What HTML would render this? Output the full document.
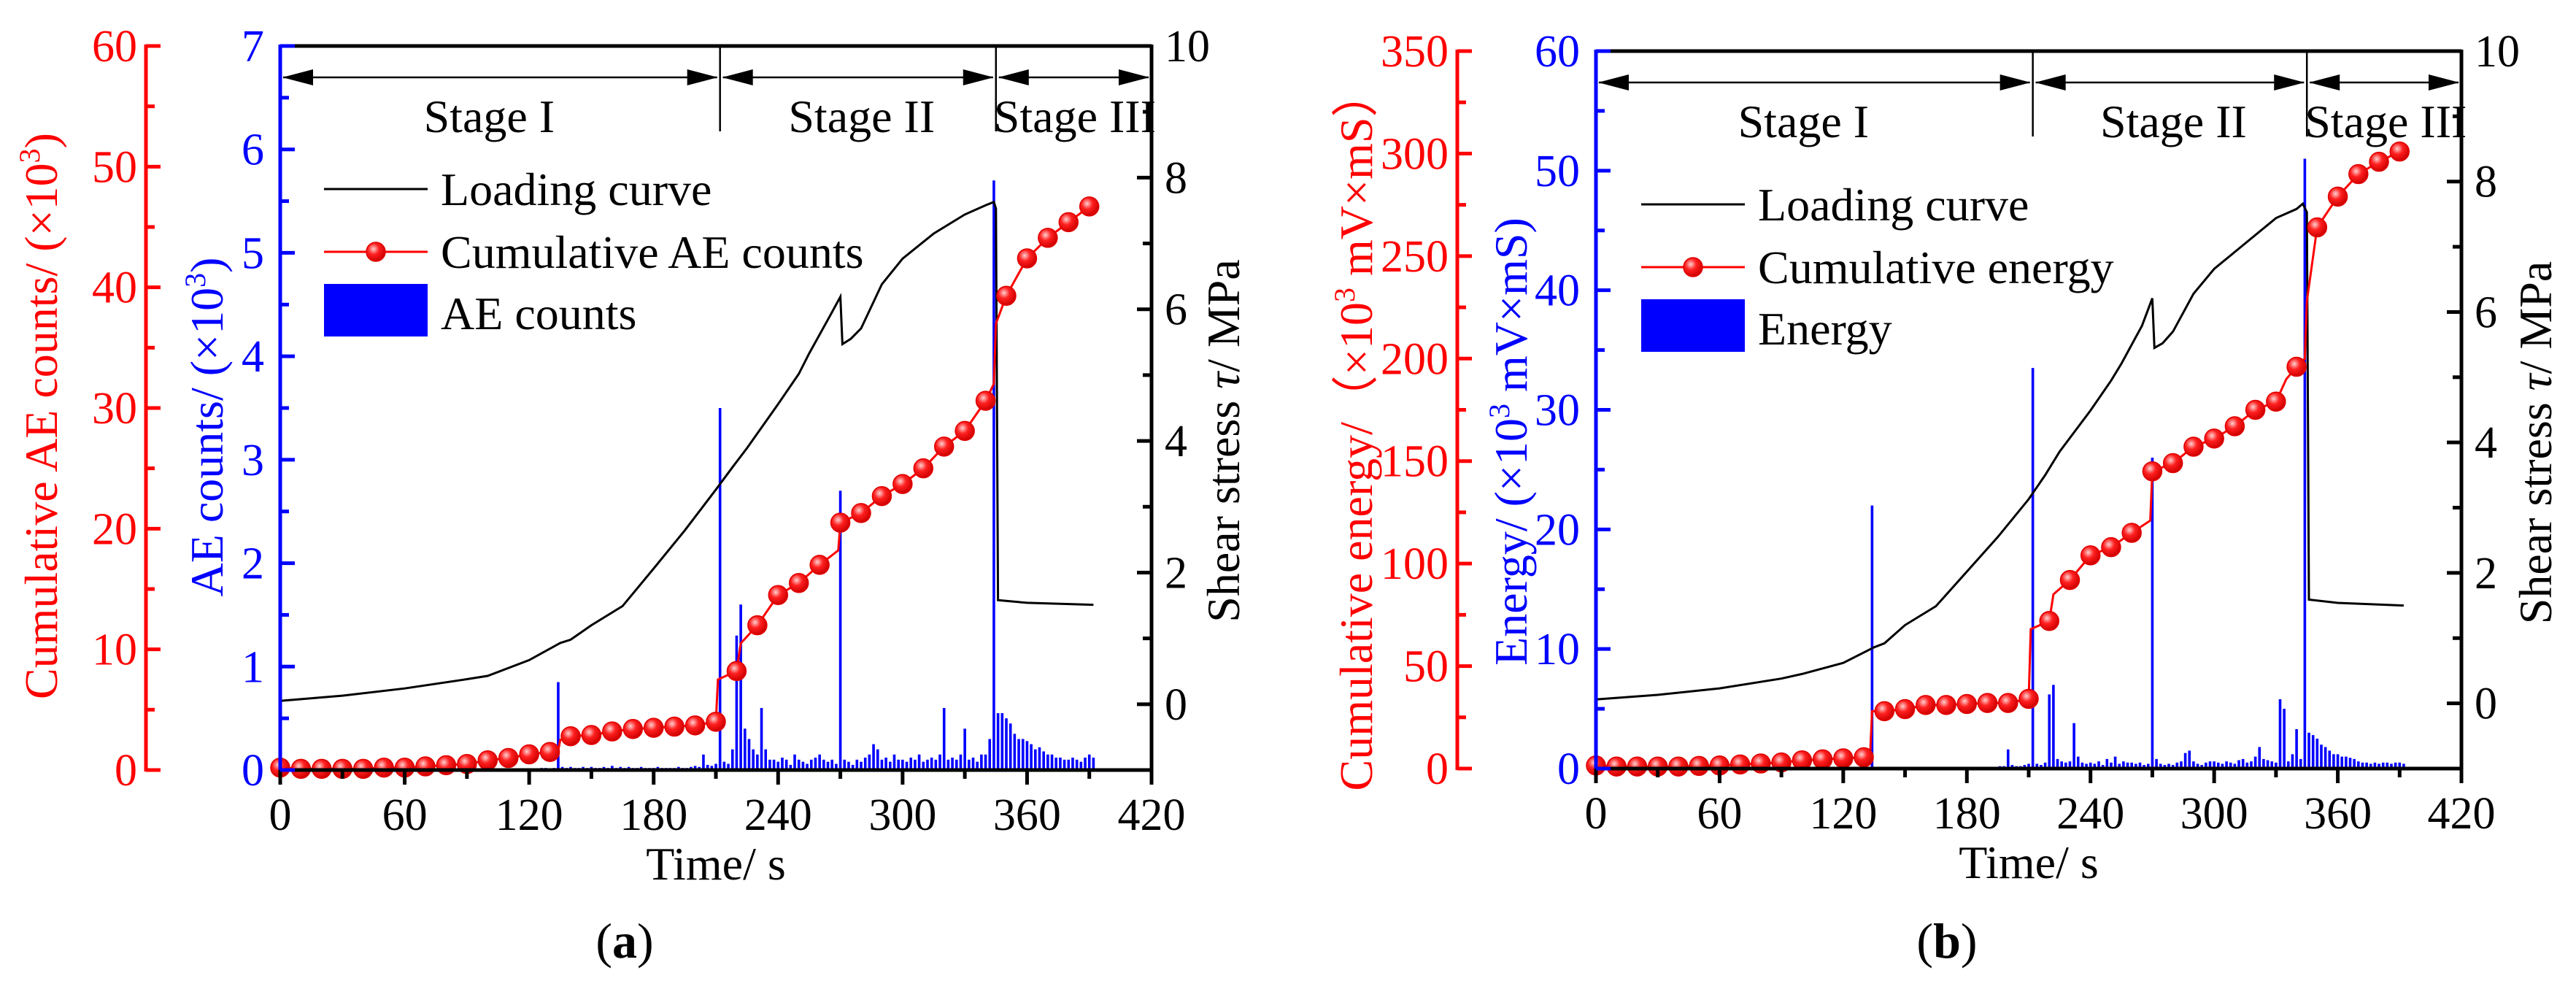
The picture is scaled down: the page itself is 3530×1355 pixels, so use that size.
<!DOCTYPE html>
<html><head><meta charset="utf-8">
<style>
html,body{margin:0;padding:0;background:#fff;}
svg{display:block;font-family:"Liberation Serif","DejaVu Serif",serif;}
</style></head>
<body>
<svg id="fig" width="3530" height="1355" viewBox="0 0 3530 1355" xmlns="http://www.w3.org/2000/svg"></svg>
<script>
// ---------- Panel (a) data ----------
const aLoadT = [0,30,60,90,100,120,135,140,150,165,180,195,210,218,225,240,250,255,265,270,271,275,280,290,300,315,330,340,344,345,346,360,392];
const aLoadV = [0.05,0.13,0.24,0.38,0.43,0.67,0.93,0.98,1.2,1.49,2.06,2.64,3.26,3.6,3.89,4.56,5.02,5.33,5.9,6.19,5.47,5.55,5.71,6.38,6.77,7.15,7.44,7.58,7.63,7.53,1.58,1.54,1.51];
const aCumLineT = [0,10,20,30,40,50,60,70,80,90,100,110,120,130,134,135,140,150,160,170,180,190,200,210,211,220,222,230,240,250,260,269,270,280,290,300,310,320,330,340,344,345,350,360,370,380,390];
const aCumLineV = [0.2,0.1,0.1,0.1,0.1,0.2,0.2,0.3,0.4,0.5,0.8,1.0,1.3,1.5,1.6,2.5,2.8,2.9,3.2,3.4,3.5,3.6,3.7,4.0,7.5,8.2,10.5,12.0,14.5,15.5,17.0,18.2,20.5,21.3,22.7,23.7,25.0,26.8,28.1,30.6,32,37,39.3,42.4,44.1,45.4,46.7];
const aCumMarkT = [0,10,20,30,40,50,60,70,80,90,100,110,120,130,140,150,160,170,180,190,200,210,220,230,240,250,260,270,280,290,300,310,320,330,340,350,360,370,380,390];
const aCumMarkV = [0.2,0.1,0.1,0.1,0.1,0.2,0.2,0.3,0.4,0.5,0.8,1.0,1.3,1.5,2.8,2.9,3.2,3.4,3.5,3.6,3.7,4.0,8.2,12.0,14.5,15.5,17.0,20.5,21.3,22.7,23.7,25.0,26.8,28.1,30.6,39.3,42.4,44.1,45.4,46.7];
const aBarStep = 2;
const aBarV = [
0,0,0,0,0,0,0,0,0,0, 0,0,0,0,0,0,0,0,0,0, 0,0,0,0,0,0,0,0,0,0, 0,0,0,0,0,0,0,0,0,0, 0,0,0,0,0,0,0,0,0,0,
0,0,0,0,0.01,0,0,0,0,0.01, 0,0,0.01,0.02,0.02,0.01,0.02,0.85,0.03,0.02,
0.03,0.02,0.02,0.03,0.02,0.03,0.02,0.02,0.03,0.02, 0.04,0.02,0.03,0.02,0.03,0.02,0.02,0.03,0.02,0.02,
0.02,0.03,0.02,0.02,0.02,0.02,0.03,0.02,0.02,0.03, 0.04,0.03,0.15,0.05,0.04,0.06,3.5,0.08,0.06,0.2,
1.3,1.6,0.4,0.3,0.2,0.15,0.6,0.2,0.1,0.1, 0.08,0.12,0.1,0.05,0.15,0.1,0.08,0.06,0.1,0.12,
0.15,0.1,0.08,0.1,0.06,2.7,0.1,0.08,0.05,0.1, 0.08,0.12,0.15,0.25,0.2,0.1,0.12,0.08,0.15,0.1,
0.1,0.08,0.12,0.1,0.15,0.08,0.1,0.12,0.1,0.15, 0.6,0.1,0.12,0.1,0.15,0.4,0.1,0.12,0.08,0.15,
0.15,0.3,5.7,0.55,0.55,0.5,0.45,0.35,0.3,0.3, 0.28,0.25,0.2,0.22,0.18,0.15,0.15,0.12,0.12,0.1,
0.1,0.12,0.1,0.08,0.12,0.15,0.12];
const aRedTicks = [0,10,20,30,40,50,60];
const aBlueTicks = [0,1,2,3,4,5,6,7];

// ---------- Panel (b) data ----------
const bLoadT = [0,30,60,90,100,120,135,140,150,165,180,195,210,218,225,240,250,255,265,270,271,275,280,290,300,315,330,340,343,345,346,360,392];
const bLoadV = [0.06,0.13,0.23,0.38,0.45,0.62,0.86,0.92,1.2,1.49,2.02,2.55,3.13,3.5,3.86,4.49,4.95,5.21,5.79,6.21,5.45,5.52,5.7,6.28,6.66,7.05,7.44,7.58,7.66,7.53,1.59,1.54,1.5];
const bCumLineT = [0,10,20,30,40,50,60,70,80,90,100,110,120,130,133,134,140,150,160,170,180,190,200,210,211,220,222,230,240,250,260,269,270,280,290,300,310,320,330,335,340,344,345,350,360,370,380,390];
const bCumLineV = [1.5,1,1,1,1,1.3,1.5,2,2.5,3,4,4.5,5,5.5,6,28,28,29,31,31,31.5,32,32,34,68,72,85,92,104,108,115,121,145,149,157,161,167,175,179,190,196,200,228,264,279,290,296,301];
const bCumMarkT = [0,10,20,30,40,50,60,70,80,90,100,110,120,130,140,150,160,170,180,190,200,210,220,230,240,250,260,270,280,290,300,310,320,330,340,350,360,370,380,390];
const bCumMarkV = [1.5,1,1,1,1,1.3,1.5,2,2.5,3,4,4.5,5,5.5,28,29,31,31,31.5,32,32,34,72,92,104,108,115,145,149,157,161,167,175,179,196,264,279,290,296,301];
const bBarStep = 2;
const bBarV = [
0,0,0,0,0,0,0,0,0,0, 0,0,0,0,0,0,0,0,0,0, 0,0,0,0,0,0,0,0,0,0, 0,0,0,0,0,0,0,0,0,0, 0,0,0,0,0,0,0,0,0,0,
0,0,0,0,0,0,0,0,0,0, 0,0,0,0,0,0,0,22,0.1,0.1,
0.1,0.1,0.1,0.1,0.1,0.1,0.1,0.1,0.1,0.1, 0.1,0.1,0.1,0.1,0.1,0.1,0.1,0.1,0.1,0.1,
0.1,0.1,0.1,0.1,0.1,0.1,0.1,0.1,0.2,0.2, 1.6,0.3,0.2,0.2,0.3,0.4,33.5,0.4,0.3,0.5,
6.2,7.0,0.8,0.6,0.5,0.6,3.8,1.0,0.5,0.4, 0.5,0.4,0.6,0.3,0.8,0.5,1.0,0.4,0.6,0.5,
0.5,0.4,0.5,0.3,0.4,26,0.8,0.4,0.3,0.4, 0.3,0.5,0.6,1.3,1.5,0.6,0.4,0.3,0.5,0.6,
0.6,0.5,0.4,0.6,0.5,0.4,0.7,0.8,0.5,0.6, 1.0,1.8,0.8,0.7,0.6,0.5,5.8,5.0,0.6,1.2,
3.3,0.8,51,3.0,2.8,2.5,2.0,1.8,1.5,1.2, 1.2,1.0,1.0,0.9,0.8,0.6,0.5,0.5,0.4,0.5,
0.4,0.5,0.5,0.4,0.5,0.5,0.4];
const bRedTicks = [0,50,100,150,200,250,300,350];
const bBlueTicks = [0,10,20,30,40,50,60];

const xTicks = [0,60,120,180,240,300,360,420];
const shearTicks = [0,2,4,6,8,10];
const stageBounds = [0,212,345,420];
const stageNames = ["Stage I","Stage II","Stage III"];

const NS = "http://www.w3.org/2000/svg";
const svg = document.getElementById("fig");
function mk(tag, attrs, parent, text){
  const e = document.createElementNS(NS, tag);
  for (const k in attrs) e.setAttribute(k, attrs[k]);
  if (text !== undefined) e.textContent = text;
  (parent || svg).appendChild(e);
  return e;
}
const FT = 64, FK = 62;

function panel(c){
  const g = mk("g", {});
  
  
  const X = t => c.x0 + (t/420)*(c.x1-c.x0);
  const YS = v => c.y1 - ((v+1)/11)*(c.y1-c.y0);
  const YB = v => c.y1 - (v/c.blueMax)*(c.y1-c.y0);
  const YR = v => c.y1 - (v/c.redMax)*(c.y1-c.y0);

  const bars = mk("g", {fill:"#0000ff"}, g);
  
  
  c.barV.forEach((v,i) => {
    if (v <= 0) return;
    const t = i*c.barStep;
    const y = YB(v);
    const r = mk("rect", {x:X(t)-1.8, y:y, width:3.6, height:c.y1-y}, bars);
    
    
  });

  const st = mk("g", {}, g);
  
  
  const ay = c.y0 + 43;
  for (let i=0;i<3;i++){
    const xa = X(stageBounds[i]), xb = X(stageBounds[i+1]);
    const ln = mk("line", {x1:xa+4, x2:xb-4, y1:ay, y2:ay, stroke:"#000", "stroke-width":2.5}, st);
    
    
    mk("polygon", {points:`${xa+3},${ay} ${xa+45},${ay-11} ${xa+45},${ay+11}`, fill:"#000"}, st);
    mk("polygon", {points:`${xb-3},${ay} ${xb-45},${ay-11} ${xb-45},${ay+11}`, fill:"#000"}, st);
    const lab = mk("text", {x:(i===0? (xa+xb)/2-15 : i===1 ? (xa+xb)/2+5 : xa-3), y:c.y0+118, "font-size":FT, "text-anchor": i<2?"middle":"start"}, st, stageNames[i]);
    
    
  }
  [1,2].forEach(i=>{
    const d = mk("line", {x1:X(stageBounds[i]), x2:X(stageBounds[i]), y1:c.y0, y2:c.y0+117, stroke:"#000", "stroke-width":2.5}, st);
    
    
  });

  const lp = c.loadT.map((t,i)=>`${X(t).toFixed(1)},${YS(c.loadV[i]).toFixed(1)}`).join(" ");
  const load = mk("polyline", {points:lp, fill:"none", stroke:"#000", "stroke-width":3}, g);
  
  

  const cp = c.cumLineT.map((t,i)=>`${X(t).toFixed(1)},${YR(c.cumLineV[i]).toFixed(1)}`).join(" ");
  const cum = mk("polyline", {points:cp, fill:"none", stroke:"#ff0000", "stroke-width":3}, g);
  
  
  const mg = mk("g", {}, g);
  
  
  c.cumMarkT.forEach((t,i)=>{
    const m = mk("circle", {cx:X(t), cy:YR(c.cumMarkV[i]), r:13, fill:"url(#ball)", stroke:"#e00000", "stroke-width":1.5}, mg);
    
    
  });

  const ax = mk("g", {}, g);
  
  
  mk("line", {x1:c.x0, x2:c.x1, y1:c.y0, y2:c.y0, stroke:"#000", "stroke-width":5}, ax);
  mk("line", {x1:c.x0, x2:c.x1+2, y1:c.y1, y2:c.y1, stroke:"#000", "stroke-width":5}, ax);
  mk("line", {x1:c.x1, x2:c.x1, y1:c.y0-2, y2:c.y1+2, stroke:"#000", "stroke-width":5}, ax);
  mk("line", {x1:c.x0, x2:c.x0, y1:c.y0-2, y2:c.y1+2, stroke:"#0000ff", "stroke-width":5}, ax);
  mk("line", {x1:c.rx, x2:c.rx, y1:c.y0-2, y2:c.y1+2, stroke:"#ff0000", "stroke-width":5}, ax);

  for (let t=0;t<=420;t+=30){
    const maj = t%60===0;
    mk("line", {x1:X(t), x2:X(t), y1:c.y1, y2:c.y1+(maj?20:12), stroke:"#000", "stroke-width":5}, ax);
  }
  xTicks.forEach(t=>{
    const l = mk("text", {x:X(t), y:c.y1+82, "font-size":FK, "text-anchor":"middle"}, ax, String(t));
    
    
  });
  const xt = mk("text", {x:(c.x0+c.x1)/2, y:c.y1+150, "font-size":FT, "text-anchor":"middle"}, ax, "Time/ s");
  
  

  for (let v=0; v<=10; v++){
    const maj = v%2===0;
    mk("line", {x1:c.x1, x2:c.x1-(maj?20:12), y1:YS(v), y2:YS(v), stroke:"#000", "stroke-width":5}, ax);
  }
  shearTicks.forEach(v=>{
    const l = mk("text", {x:c.x1+18, y:YS(v)+21, "font-size":FK}, ax, String(v));
    
    
  });
  const bt = c.blueTicks;
  const bstep = bt[1]-bt[0];
  for (let i=0;i<bt.length;i++){
    mk("line", {x1:c.x0, x2:c.x0+20, y1:YB(bt[i]), y2:YB(bt[i]), stroke:"#0000ff", "stroke-width":5}, ax);
    if (i<bt.length-1) mk("line", {x1:c.x0, x2:c.x0+12, y1:YB(bt[i]+bstep/2), y2:YB(bt[i]+bstep/2), stroke:"#0000ff", "stroke-width":5}, ax);
    const l = mk("text", {x:c.x0-22, y:YB(bt[i])+21, "font-size":FK, fill:"#0000ff", "text-anchor":"end"}, ax, String(bt[i]));
    
    
  }
  const rt = c.redTicks;
  const rstep = rt[1]-rt[0];
  for (let i=0;i<rt.length;i++){
    mk("line", {x1:c.rx, x2:c.rx+20, y1:YR(rt[i]), y2:YR(rt[i]), stroke:"#ff0000", "stroke-width":5}, ax);
    if (i<rt.length-1) mk("line", {x1:c.rx, x2:c.rx+12, y1:YR(rt[i]+rstep/2), y2:YR(rt[i]+rstep/2), stroke:"#ff0000", "stroke-width":5}, ax);
    const l = mk("text", {x:c.rx-12, y:YR(rt[i])+21, "font-size":FK, fill:"#ff0000", "text-anchor":"end"}, ax, String(rt[i]));
    
    
  }

  const t1 = mk("text", {transform:`translate(${c.redTitleX},${c.redTitleY}) rotate(-90)`, "font-size":FT, fill:"#ff0000", "text-anchor":"middle"}, g);
  t1.innerHTML = c.redTitle;
  
  
  const t2 = mk("text", {transform:`translate(${c.blueTitleX},${c.blueTitleY}) rotate(-90)`, "font-size":FT, fill:"#0000ff", "text-anchor":"middle"}, g);
  t2.innerHTML = c.blueTitle;
  
  
  const t3 = mk("text", {transform:`translate(${c.shearTitleX},${(c.y0+c.y1)/2+45}) rotate(-90)`, "font-size":FT, "text-anchor":"middle"}, g);
  t3.innerHTML = 'Shear stress <tspan font-style="italic">τ</tspan>/ MPa';
  
  

  const lg = mk("g", {}, g);
  
  
  const lx = c.legX, ly = c.legY;
  mk("line", {x1:lx, x2:lx+142, y1:ly, y2:ly, stroke:"#000", "stroke-width":3}, lg);
  const e1 = mk("text", {x:lx+160, y:ly+22, "font-size":FT}, lg, "Loading curve");
  
  
  mk("line", {x1:lx, x2:lx+142, y1:ly+86, y2:ly+86, stroke:"#ff0000", "stroke-width":3}, lg);
  mk("circle", {cx:lx+71, cy:ly+86, r:13, fill:"url(#ball)", stroke:"#e00000", "stroke-width":1.5}, lg);
  const e2 = mk("text", {x:lx+160, y:ly+108, "font-size":FT}, lg, c.cumLabel);
  
  
  mk("rect", {x:lx, y:ly+130, width:142, height:72, fill:"#0000ff"}, lg);
  const e3 = mk("text", {x:lx+160, y:ly+192, "font-size":FT}, lg, c.barLabel);
  
  

  const cap = mk("text", {x:c.capX, y:1312, "font-size":68, "text-anchor":"middle"}, g);
  cap.innerHTML = '(<tspan font-weight="bold">' + c.cap + '</tspan>)';
  
  
}

const defs = mk("defs", {});
const rg = mk("radialGradient", {id:"ball", cx:"0.38", cy:"0.35", r:"0.65"}, defs);
mk("stop", {offset:"0", "stop-color":"#ffd0d0"}, rg);
mk("stop", {offset:"0.45", "stop-color":"#ff2020"}, rg);
mk("stop", {offset:"1", "stop-color":"#d00000"}, rg);

panel({id:"panel-a", x0:384, x1:1578, y0:63, y1:1055, rx:200, blueMax:7, redMax:60,
  loadT:aLoadT, loadV:aLoadV, cumLineT:aCumLineT, cumLineV:aCumLineV, cumMarkT:aCumMarkT, cumMarkV:aCumMarkV,
  barV:aBarV, barStep:aBarStep, blueTicks:aBlueTicks, redTicks:aRedTicks,
  barName:"ae-count-bars", cumName:"cumulative-ae-counts", cumLabel:"Cumulative AE counts", barLabel:"AE counts",
  redTitle:'Cumulative AE counts/ (×10<tspan font-size="40" dy="-24">3</tspan><tspan dy="24">)</tspan>', redTitleX:78, redTitleY:570,
  blueTitle:'AE counts/ (×10<tspan font-size="40" dy="-24">3</tspan><tspan dy="24">)</tspan>', blueTitleX:305, blueTitleY:585,
  shearTitleX:1698, legX:444, legY:259, capX:856, cap:"a"});
panel({id:"panel-b", x0:2187, x1:3373, y0:70, y1:1053, rx:1997, blueMax:60, redMax:350,
  loadT:bLoadT, loadV:bLoadV, cumLineT:bCumLineT, cumLineV:bCumLineV, cumMarkT:bCumMarkT, cumMarkV:bCumMarkV,
  barV:bBarV, barStep:bBarStep, blueTicks:bBlueTicks, redTicks:bRedTicks,
  barName:"energy-bars", cumName:"cumulative-energy", cumLabel:"Cumulative energy", barLabel:"Energy",
  redTitle:'Cumulative energy/（×10<tspan font-size="40" dy="-24">3</tspan><tspan dy="24"> mV×mS）</tspan>', redTitleX:1880, redTitleY:590,
  blueTitle:'Energy/ (×10<tspan font-size="40" dy="-24">3</tspan><tspan dy="24"> mV×mS)</tspan>', blueTitleX:2092, blueTitleY:605,
  shearTitleX:3496, legX:2249, legY:280, capX:2668, cap:"b"});
</script>
</body></html>
